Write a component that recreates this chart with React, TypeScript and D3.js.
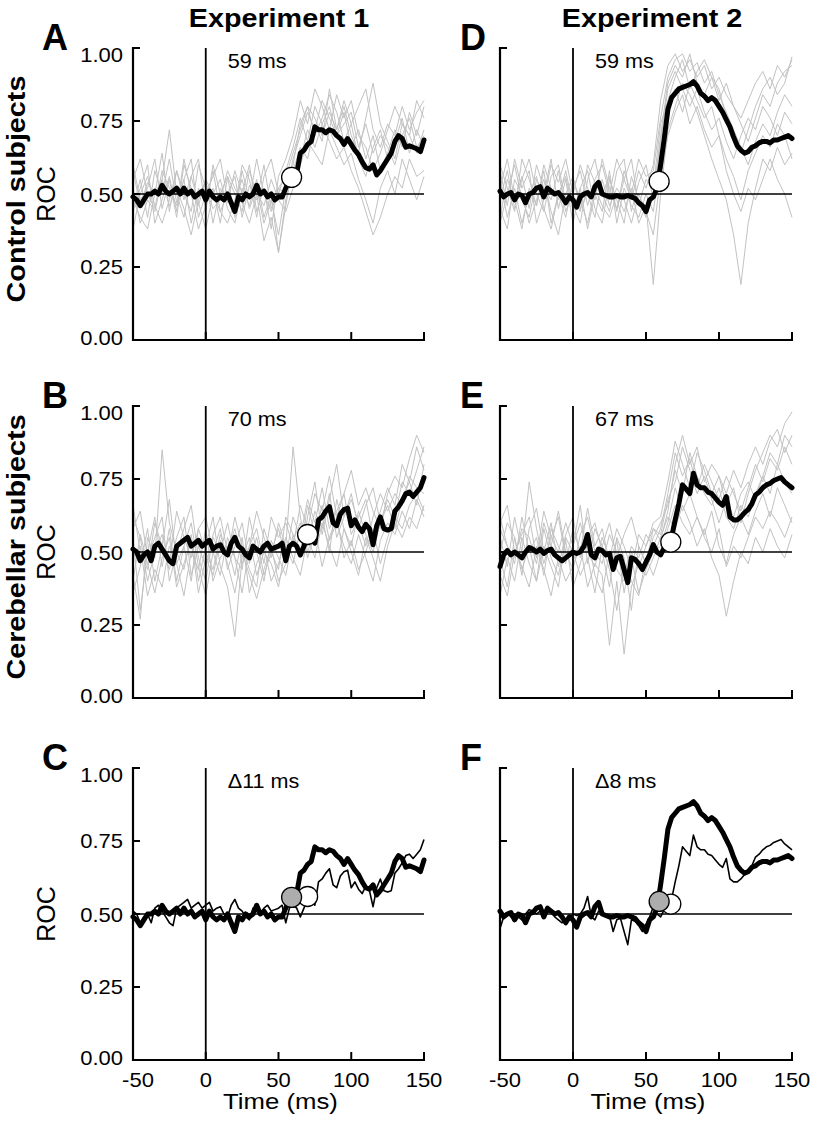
import React from 'react';
import * as d3 from 'd3';

// ---------- DATA ----------
// fine time grid (2.5 ms) for group means, coarse (5 ms) for individual subjects
const timeFine = d3.range(0, 81).map((i) => -50 + i * 2.5);
const timeCoarse = d3.range(0, 41).map((i) => -50 + i * 5);

const xTicks = [-50, 0, 50, 100, 150];
const yTicks = [0, 0.25, 0.5, 0.75, 1.0];
const yTickLabels = ['0.00', '0.25', '0.50', '0.75', '1.00'];

// Experiment 1 – control mean
const meanCtrl1 = [
  0.49, 0.48, 0.46, 0.48, 0.5, 0.5, 0.51, 0.5, 0.53, 0.51, 0.5, 0.51, 0.52, 0.5, 0.52, 0.5, 0.51, 0.49, 0.5, 0.51,
  0.48, 0.51, 0.49, 0.48, 0.49, 0.48, 0.5, 0.47, 0.44, 0.49, 0.48, 0.5, 0.49, 0.5, 0.53, 0.5, 0.51, 0.49, 0.5, 0.48,
  0.49, 0.49, 0.52, 0.55, 0.56, 0.57, 0.64, 0.65, 0.67, 0.68, 0.73, 0.72, 0.72, 0.71, 0.72, 0.715, 0.7, 0.69, 0.67, 0.69,
  0.67, 0.65, 0.635, 0.61, 0.59, 0.585, 0.6, 0.565, 0.58, 0.6, 0.62, 0.64, 0.68, 0.7, 0.69, 0.66, 0.665, 0.66, 0.655, 0.645, 0.685,
];
// Experiment 1 – cerebellar mean
const meanCereb1 = [
  0.51, 0.5, 0.47, 0.49, 0.5, 0.47, 0.52, 0.53, 0.51, 0.49, 0.47, 0.46, 0.52, 0.53, 0.54, 0.55, 0.52, 0.53, 0.54, 0.52,
  0.53, 0.54, 0.51, 0.52, 0.525, 0.5, 0.49, 0.53, 0.55, 0.52, 0.51, 0.49, 0.48, 0.52, 0.51, 0.5, 0.52, 0.53, 0.51, 0.515,
  0.52, 0.53, 0.47, 0.52, 0.53, 0.52, 0.49, 0.52, 0.555, 0.55, 0.53, 0.61, 0.62, 0.64, 0.655, 0.6, 0.59, 0.63, 0.645, 0.65,
  0.59, 0.61, 0.585, 0.57, 0.595, 0.58, 0.525, 0.59, 0.62, 0.58, 0.575, 0.58, 0.64, 0.655, 0.675, 0.7, 0.705, 0.69, 0.705, 0.72, 0.755,
];
// Experiment 2 – control mean
const meanCtrl2 = [
  0.51, 0.49, 0.5, 0.505, 0.48, 0.5, 0.495, 0.47, 0.5, 0.505, 0.52, 0.525, 0.49, 0.52, 0.51, 0.5, 0.505, 0.49, 0.47, 0.49,
  0.48, 0.455, 0.49, 0.5, 0.505, 0.49, 0.525, 0.54, 0.5, 0.495, 0.49, 0.49, 0.495, 0.49, 0.49, 0.495, 0.49, 0.485, 0.47, 0.46,
  0.44, 0.48, 0.49, 0.52, 0.6, 0.69, 0.79, 0.83, 0.845, 0.86, 0.865, 0.87, 0.875, 0.885, 0.87, 0.845, 0.835, 0.82, 0.83, 0.82,
  0.8, 0.78, 0.755, 0.73, 0.695, 0.665, 0.65, 0.64, 0.645, 0.66, 0.665, 0.675, 0.68, 0.68, 0.675, 0.685, 0.685, 0.69, 0.695, 0.7, 0.69,
];
// Experiment 2 – cerebellar mean
const meanCereb2 = [
  0.45, 0.49, 0.505, 0.49, 0.5, 0.49, 0.48, 0.5, 0.515, 0.51, 0.5, 0.51, 0.495, 0.505, 0.51, 0.49, 0.48, 0.47, 0.48, 0.49,
  0.5, 0.495, 0.5, 0.52, 0.56, 0.49, 0.48, 0.51, 0.505, 0.49, 0.495, 0.44, 0.48, 0.485, 0.44, 0.395, 0.48, 0.475, 0.46, 0.44,
  0.465, 0.49, 0.525, 0.5, 0.49, 0.515, 0.525, 0.55, 0.61, 0.665, 0.73, 0.715, 0.7, 0.77, 0.73, 0.72, 0.72, 0.705, 0.7, 0.685,
  0.67, 0.66, 0.69, 0.62, 0.61, 0.61, 0.62, 0.635, 0.645, 0.665, 0.695, 0.705, 0.72, 0.73, 0.735, 0.745, 0.75, 0.755, 0.74, 0.73, 0.72,
];

// individual subjects (5 ms grid)
const subjCtrl1 = [
  [0.45,0.55,0.42,0.58,0.5,0.62,0.47,0.55,0.4,0.52,0.46,0.58,0.44,0.5,0.56,0.42,0.53,0.48,0.6,0.45,0.52,0.5,0.62,0.7,0.78,0.72,0.82,0.76,0.7,0.78,0.66,0.72,0.62,0.7,0.58,0.64,0.72,0.66,0.78,0.7,0.8],
  [0.52,0.4,0.48,0.44,0.55,0.72,0.5,0.42,0.56,0.47,0.38,0.5,0.55,0.45,0.4,0.52,0.46,0.55,0.42,0.5,0.3,0.48,0.58,0.66,0.62,0.74,0.68,0.86,0.72,0.8,0.7,0.64,0.76,0.88,0.74,0.68,0.62,0.74,0.7,0.64,0.72],
  [0.38,0.5,0.56,0.46,0.4,0.48,0.58,0.5,0.44,0.6,0.52,0.45,0.48,0.58,0.52,0.47,0.4,0.5,0.46,0.55,0.48,0.44,0.52,0.6,0.68,0.64,0.6,0.72,0.66,0.6,0.64,0.55,0.48,0.4,0.52,0.58,0.5,0.62,0.55,0.48,0.56],
  [0.6,0.48,0.52,0.62,0.45,0.55,0.42,0.6,0.52,0.46,0.55,0.4,0.52,0.47,0.58,0.5,0.6,0.44,0.52,0.38,0.56,0.62,0.7,0.82,0.74,0.86,0.8,0.72,0.84,0.76,0.82,0.7,0.66,0.58,0.64,0.72,0.8,0.74,0.7,0.82,0.76],
  [0.48,0.42,0.38,0.5,0.55,0.46,0.52,0.45,0.36,0.48,0.55,0.5,0.44,0.4,0.48,0.55,0.45,0.52,0.4,0.48,0.36,0.52,0.56,0.62,0.72,0.66,0.74,0.68,0.62,0.66,0.58,0.52,0.44,0.36,0.42,0.5,0.56,0.52,0.62,0.56,0.58],
  [0.55,0.62,0.5,0.45,0.58,0.52,0.46,0.55,0.62,0.42,0.5,0.56,0.62,0.48,0.45,0.6,0.55,0.42,0.56,0.62,0.5,0.58,0.66,0.76,0.68,0.8,0.74,0.8,0.7,0.74,0.78,0.66,0.74,0.64,0.7,0.66,0.6,0.7,0.76,0.66,0.7],
  [0.44,0.52,0.6,0.4,0.48,0.56,0.44,0.62,0.5,0.38,0.46,0.52,0.4,0.56,0.5,0.44,0.58,0.5,0.34,0.42,0.3,0.46,0.6,0.74,0.8,0.7,0.76,0.84,0.78,0.68,0.74,0.62,0.56,0.66,0.72,0.62,0.68,0.76,0.64,0.72,0.66],
  [0.58,0.46,0.54,0.5,0.64,0.44,0.58,0.48,0.56,0.62,0.44,0.6,0.5,0.56,0.42,0.58,0.48,0.62,0.5,0.44,0.52,0.56,0.64,0.72,0.8,0.76,0.7,0.78,0.72,0.82,0.74,0.8,0.86,0.72,0.66,0.74,0.7,0.8,0.72,0.78,0.82],
];
const subjCereb1 = [
  [0.55,0.3,0.5,0.62,0.45,0.58,0.4,0.52,0.6,0.45,0.35,0.5,0.58,0.44,0.52,0.6,0.46,0.55,0.42,0.5,0.58,0.48,0.62,0.55,0.68,0.6,0.72,0.58,0.64,0.7,0.56,0.62,0.68,0.55,0.64,0.72,0.66,0.8,0.74,0.86,0.78],
  [0.42,0.27,0.55,0.48,0.85,0.6,0.5,0.44,0.56,0.4,0.52,0.62,0.45,0.38,0.21,0.48,0.55,0.42,0.5,0.46,0.38,0.52,0.86,0.62,0.5,0.58,0.45,0.55,0.62,0.48,0.54,0.44,0.5,0.58,0.46,0.55,0.62,0.58,0.66,0.7,0.64],
  [0.62,0.55,0.4,0.5,0.56,0.46,0.64,0.55,0.48,0.58,0.62,0.5,0.42,0.55,0.48,0.36,0.52,0.58,0.46,0.62,0.55,0.6,0.52,0.66,0.58,0.7,0.64,0.76,0.62,0.7,0.78,0.66,0.72,0.64,0.58,0.7,0.76,0.72,0.82,0.9,0.84],
  [0.48,0.52,0.35,0.44,0.38,0.52,0.46,0.35,0.5,0.44,0.58,0.4,0.48,0.52,0.42,0.55,0.36,0.46,0.52,0.4,0.46,0.55,0.48,0.42,0.55,0.48,0.6,0.52,0.45,0.58,0.5,0.42,0.55,0.48,0.4,0.52,0.6,0.55,0.62,0.58,0.66],
  [0.36,0.45,0.58,0.4,0.52,0.44,0.55,0.62,0.42,0.52,0.45,0.55,0.5,0.6,0.48,0.44,0.62,0.5,0.4,0.54,0.48,0.42,0.56,0.48,0.62,0.74,0.56,0.68,0.8,0.62,0.7,0.58,0.66,0.72,0.6,0.68,0.62,0.74,0.7,0.78,0.86],
  [0.58,0.64,0.48,0.55,0.62,0.4,0.5,0.58,0.66,0.48,0.4,0.56,0.62,0.5,0.58,0.46,0.52,0.64,0.55,0.48,0.6,0.52,0.46,0.58,0.52,0.64,0.58,0.7,0.55,0.62,0.68,0.6,0.52,0.62,0.7,0.64,0.7,0.66,0.76,0.72,0.7],
  [0.66,0.5,0.44,0.6,0.52,0.68,0.46,0.52,0.4,0.58,0.5,0.44,0.56,0.48,0.62,0.52,0.44,0.38,0.58,0.5,0.44,0.62,0.56,0.5,0.66,0.56,0.62,0.5,0.68,0.58,0.52,0.64,0.56,0.5,0.6,0.66,0.58,0.68,0.74,0.66,0.8],
  [0.4,0.56,0.46,0.36,0.48,0.55,0.38,0.46,0.54,0.36,0.48,0.42,0.54,0.46,0.36,0.5,0.42,0.34,0.44,0.52,0.4,0.46,0.54,0.6,0.48,0.56,0.66,0.54,0.6,0.52,0.46,0.56,0.48,0.4,0.54,0.6,0.56,0.64,0.58,0.68,0.62],
];
const subjCtrl2 = [
  [0.48,0.58,0.45,0.55,0.62,0.5,0.44,0.56,0.6,0.47,0.52,0.58,0.46,0.55,0.6,0.5,0.62,0.55,0.48,0.58,0.52,0.6,0.82,0.94,0.98,0.92,0.96,0.9,0.94,0.86,0.9,0.84,0.8,0.76,0.82,0.88,0.92,0.86,0.94,0.9,0.96],
  [0.55,0.42,0.52,0.4,0.5,0.56,0.45,0.38,0.5,0.42,0.55,0.48,0.4,0.52,0.46,0.42,0.5,0.44,0.52,0.4,0.46,0.19,0.5,0.72,0.8,0.88,0.84,0.78,0.7,0.62,0.55,0.48,0.36,0.19,0.4,0.52,0.62,0.58,0.66,0.6,0.64],
  [0.4,0.5,0.6,0.48,0.42,0.55,0.5,0.62,0.45,0.55,0.4,0.52,0.58,0.45,0.4,0.55,0.48,0.4,0.56,0.48,0.42,0.5,0.68,0.86,0.92,0.86,0.8,0.86,0.78,0.72,0.76,0.68,0.62,0.7,0.76,0.72,0.8,0.76,0.7,0.78,0.74],
  [0.6,0.52,0.44,0.62,0.55,0.46,0.6,0.52,0.48,0.58,0.46,0.4,0.55,0.62,0.5,0.56,0.44,0.58,0.5,0.62,0.56,0.58,0.76,0.9,0.96,0.98,0.92,0.95,0.88,0.92,0.84,0.78,0.72,0.66,0.6,0.68,0.74,0.7,0.78,0.84,0.8],
  [0.45,0.38,0.55,0.5,0.4,0.48,0.55,0.44,0.36,0.5,0.56,0.45,0.5,0.42,0.55,0.46,0.52,0.48,0.4,0.5,0.44,0.36,0.56,0.7,0.78,0.84,0.74,0.8,0.72,0.66,0.7,0.58,0.5,0.44,0.52,0.48,0.55,0.62,0.55,0.5,0.42],
  [0.52,0.62,0.48,0.56,0.45,0.6,0.52,0.48,0.58,0.44,0.5,0.6,0.52,0.48,0.62,0.52,0.45,0.55,0.62,0.46,0.55,0.52,0.74,0.82,0.9,0.96,0.86,0.92,0.96,0.9,0.82,0.88,0.8,0.74,0.68,0.76,0.84,0.8,0.88,0.92,0.94],
  [0.42,0.55,0.48,0.38,0.52,0.46,0.58,0.4,0.5,0.56,0.44,0.52,0.38,0.5,0.44,0.58,0.4,0.52,0.46,0.42,0.5,0.44,0.62,0.8,0.86,0.78,0.88,0.82,0.76,0.8,0.7,0.62,0.56,0.48,0.58,0.64,0.7,0.66,0.74,0.7,0.62],
  [0.58,0.46,0.62,0.52,0.58,0.4,0.48,0.6,0.54,0.62,0.5,0.44,0.6,0.54,0.5,0.44,0.58,0.62,0.44,0.54,0.6,0.48,0.7,0.88,0.94,0.9,0.98,0.88,0.84,0.9,0.86,0.76,0.7,0.64,0.72,0.8,0.86,0.9,0.84,0.88,0.97],
];
const subjCereb2 = [
  [0.55,0.45,0.62,0.5,0.74,0.58,0.46,0.55,0.62,0.48,0.52,0.6,0.5,0.45,0.55,0.48,0.58,0.52,0.44,0.56,0.52,0.6,0.62,0.74,0.88,0.8,0.72,0.84,0.78,0.7,0.76,0.66,0.72,0.6,0.7,0.78,0.84,0.9,0.86,0.94,0.98],
  [0.42,0.35,0.5,0.45,0.38,0.52,0.44,0.35,0.48,0.4,0.45,0.52,0.38,0.46,0.42,0.18,0.4,0.15,0.38,0.46,0.42,0.48,0.55,0.62,0.58,0.66,0.6,0.52,0.58,0.48,0.42,0.28,0.4,0.5,0.46,0.55,0.5,0.58,0.52,0.48,0.56],
  [0.62,0.52,0.48,0.58,0.55,0.46,0.6,0.52,0.64,0.5,0.44,0.56,0.62,0.5,0.46,0.56,0.5,0.42,0.52,0.48,0.56,0.52,0.58,0.7,0.84,0.76,0.82,0.72,0.8,0.74,0.68,0.76,0.7,0.64,0.72,0.8,0.74,0.82,0.78,0.86,0.8],
  [0.35,0.48,0.4,0.55,0.46,0.4,0.52,0.45,0.38,0.55,0.5,0.42,0.48,0.36,0.52,0.44,0.3,0.46,0.4,0.35,0.48,0.42,0.5,0.58,0.66,0.6,0.56,0.62,0.55,0.5,0.58,0.45,0.52,0.48,0.55,0.62,0.58,0.64,0.6,0.55,0.62],
  [0.5,0.6,0.55,0.42,0.58,0.65,0.5,0.6,0.45,0.56,0.62,0.48,0.55,0.6,0.5,0.38,0.55,0.48,0.3,0.52,0.46,0.55,0.6,0.66,0.78,0.7,0.84,0.76,0.7,0.66,0.72,0.62,0.58,0.66,0.62,0.7,0.76,0.7,0.8,0.74,0.7],
  [0.58,0.52,0.46,0.62,0.5,0.55,0.42,0.58,0.52,0.46,0.58,0.5,0.65,0.52,0.58,0.46,0.54,0.36,0.5,0.45,0.52,0.58,0.56,0.68,0.74,0.86,0.78,0.7,0.76,0.68,0.6,0.68,0.62,0.7,0.74,0.68,0.76,0.84,0.8,0.9,0.86],
  [0.48,0.38,0.55,0.44,0.52,0.4,0.58,0.48,0.42,0.54,0.38,0.46,0.56,0.42,0.36,0.5,0.44,0.4,0.48,0.36,0.44,0.5,0.52,0.6,0.72,0.64,0.7,0.62,0.56,0.64,0.52,0.46,0.56,0.62,0.56,0.64,0.7,0.62,0.72,0.66,0.6],
  [0.6,0.66,0.5,0.56,0.62,0.48,0.64,0.55,0.5,0.6,0.52,0.66,0.46,0.58,0.52,0.6,0.48,0.56,0.62,0.52,0.46,0.58,0.54,0.64,0.8,0.9,0.8,0.86,0.74,0.8,0.76,0.7,0.78,0.72,0.8,0.86,0.8,0.88,0.92,0.84,0.9],
];

// onset markers (time ms, ROC value)
const onsetCtrl1 = { t: 59, v: 0.557 };
const onsetCereb1 = { t: 70, v: 0.56 };
const onsetCtrl2 = { t: 59, v: 0.543 };
const onsetCereb2 = { t: 67, v: 0.534 };

const panelLetters = ['A', 'B', 'C', 'D', 'E', 'F'];
const annotations = ['59 ms', '70 ms', '\u039411 ms', '59 ms', '67 ms', '\u03948 ms'];
const columnTitles = ['Experiment 1', 'Experiment 2'];
const rowTitles = ['Control subjects', 'Cerebellar subjects', ''];

// ---------- LAYOUT ----------
const W = 815;
const H = 1123;
const colX: [number, number][] = [[133, 424], [500, 792]];
const rowY: [number, number][] = [[48, 340], [406, 698], [768, 1060]];
const FONT = "Arial, 'Liberation Sans', Helvetica, sans-serif";
const GRAY_LINE = '#c2c2c2';

type Onset = { t: number; v: number; fill: string };
type PanelDef = {
  col: number;
  row: number;
  gray: number[][];
  thick: number[];
  thin: number[] | null;
  onsets: Onset[];
};

const panels: PanelDef[] = [
  { col: 0, row: 0, gray: subjCtrl1, thick: meanCtrl1, thin: null, onsets: [{ ...onsetCtrl1, fill: '#fff' }] },
  { col: 0, row: 1, gray: subjCereb1, thick: meanCereb1, thin: null, onsets: [{ ...onsetCereb1, fill: '#fff' }] },
  {
    col: 0, row: 2, gray: [], thick: meanCtrl1, thin: meanCereb1,
    onsets: [{ ...onsetCereb1, fill: '#fff' }, { ...onsetCtrl1, fill: '#adadad' }],
  },
  { col: 1, row: 0, gray: subjCtrl2, thick: meanCtrl2, thin: null, onsets: [{ ...onsetCtrl2, fill: '#fff' }] },
  { col: 1, row: 1, gray: subjCereb2, thick: meanCereb2, thin: null, onsets: [{ ...onsetCereb2, fill: '#fff' }] },
  {
    col: 1, row: 2, gray: [], thick: meanCtrl2, thin: meanCereb2,
    onsets: [{ ...onsetCereb2, fill: '#fff' }, { ...onsetCtrl2, fill: '#adadad' }],
  },
];

function Txt(props: {
  x: number; y: number; size: number; sx?: number; rot?: number; anchor?: string; weight?: string; children: React.ReactNode;
}) {
  const { x, y, size, sx = 1, rot = 0, anchor = 'start', weight = 'normal', children } = props;
  return (
    <text
      transform={`translate(${x},${y}) rotate(${rot}) scale(${sx},1)`}
      textAnchor={anchor}
      fontSize={size}
      fontWeight={weight}
      fontFamily={FONT}
      fill="#000"
    >
      {children}
    </text>
  );
}

const yLabelDy = [5, 7, 7.5, 7, 14];

function Panel({ p, idx }: { p: PanelDef; idx: number }) {
  const [x0, x1] = colX[p.col];
  const [y0, y1] = rowY[p.row];
  const xs = d3.scaleLinear().domain([-50, 150]).range([x0, x1]);
  const ys = d3.scaleLinear().domain([0, 1]).range([y1, y0]);
  const lineFine = d3.line<number>().x((_, i) => xs(timeFine[i])).y((d) => ys(d));
  const lineCoarse = d3.line<number>().x((_, i) => xs(timeCoarse[i])).y((d) => ys(d));
  const isLeft = p.col === 0;
  const isBottom = p.row === 2;
  return (
    <g>
      {p.gray.map((g, i) => (
        <path key={i} d={lineCoarse(g) || ''} fill="none" stroke={GRAY_LINE} strokeWidth={1} strokeLinejoin="round" />
      ))}
      {/* reference lines */}
      <line x1={xs(-50)} x2={xs(150)} y1={ys(0.5)} y2={ys(0.5)} stroke="#000" strokeWidth={1.6} />
      <line x1={xs(0)} x2={xs(0)} y1={ys(1)} y2={ys(0)} stroke="#000" strokeWidth={1.8} />
      {/* axes */}
      <line x1={x0} x2={x0} y1={y0 - 1} y2={y1 + 1} stroke="#000" strokeWidth={2.2} />
      <line x1={x0 - 1} x2={x1 + 1} y1={y1} y2={y1} stroke="#000" strokeWidth={2.2} />
      {yTicks.slice(1).map((t) => (
        <line key={t} x1={x0} x2={x0 + 7} y1={ys(t)} y2={ys(t)} stroke="#000" strokeWidth={2} />
      ))}
      {xTicks.slice(1).map((t) => (
        <line key={t} x1={xs(t)} x2={xs(t)} y1={y1} y2={y1 - 8} stroke="#000" strokeWidth={2} />
      ))}
      {isLeft &&
        yTicks.map((t, i) => (
          <Txt key={t} x={x0 - 10} y={ys(t) + yLabelDy[i]} size={20} sx={1.1} anchor="end">
            {yTickLabels[i]}
          </Txt>
        ))}
      {isBottom &&
        xTicks.map((t) => (
          <Txt key={t} x={xs(t) + (t < 0 ? 5 : 0)} y={y1 + 27} size={20} sx={1.1} anchor="middle">
            {String(t)}
          </Txt>
        ))}
      {isBottom && (
        <Txt x={(x0 + x1) / 2 + 2} y={1109} size={22} sx={1.17} anchor="middle">
          Time (ms)
        </Txt>
      )}
      {/* data lines */}
      <path d={lineFine(p.thick) || ''} fill="none" stroke="#000" strokeWidth={5} strokeLinejoin="round" strokeLinecap="round" />
      {p.thin && (
        <path d={lineFine(p.thin) || ''} fill="none" stroke="#000" strokeWidth={1.6} strokeLinejoin="round" />
      )}
      {p.onsets.map((o, i) => (
        <circle key={i} cx={xs(o.t)} cy={ys(o.v)} r={10} fill={o.fill} stroke="#000" strokeWidth={1.3} />
      ))}
      <Txt x={xs(0) + 22} y={y0 + 20} size={20} sx={1.08}>
        {annotations[idx]}
      </Txt>
      <Txt x={p.col === 0 ? 42 : 460} y={y0 + 2} size={36} weight="bold">
        {panelLetters[idx]}
      </Txt>
      {isLeft && (
        <Txt x={55} y={ys(0.5)} size={25} rot={-90} anchor="middle">
          ROC
        </Txt>
      )}
      {isLeft && rowTitles[p.row] && (
        <Txt x={25} y={p.row === 0 ? 189 : 547} size={25} sx={1.15} rot={-90} anchor="middle" weight="bold">
          {rowTitles[p.row]}
        </Txt>
      )}
    </g>
  );
}

export default function App() {
  return (
    <svg
      width={W}
      height={H}
      viewBox={`0 0 ${W} ${H}`}
      style={{ position: 'absolute', left: 0, top: 0, background: '#fff' }}
    >
      <rect x={0} y={0} width={W} height={H} fill="#fff" />
      <Txt x={279} y={27} size={25} sx={1.15} anchor="middle" weight="bold">
        {columnTitles[0]}
      </Txt>
      <Txt x={652} y={27} size={25} sx={1.15} anchor="middle" weight="bold">
        {columnTitles[1]}
      </Txt>
      {panels.map((p, i) => (
        <Panel key={i} p={p} idx={i} />
      ))}
    </svg>
  );
}
